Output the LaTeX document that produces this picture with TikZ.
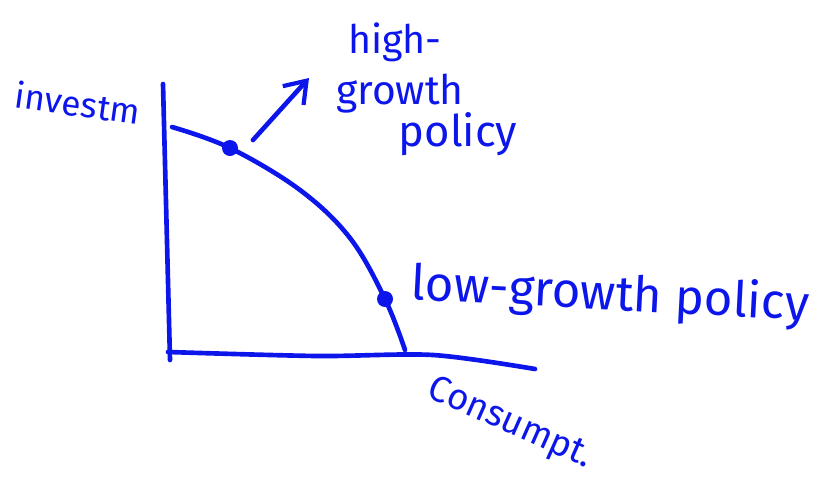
\documentclass[tikz,border=0pt]{standalone}
\usepackage{fontspec}
\setmainfont{Fira Sans}
\usetikzlibrary{arrows.meta,positioning}
\definecolor{pen}{RGB}{12,22,235}
\tikzset{>={Straight Barb[length=5mm,width=7mm,line width=3pt]},
  ink/.style={draw=pen, line width=3.3pt, line cap=round, line join=round},
  dot/.style={circle, fill=pen, inner sep=0pt, minimum size=4mm},
  hand/.style={text=pen, inner sep=0pt, font=\fontsize{#1}{#1}\selectfont},
  hand/.default=28}

\begin{document}
\begin{tikzpicture}[x=0.025cm, y=-0.025cm]
  \useasboundingbox (0,0) rectangle (822,481);
  % axes
  \coordinate (ytop) at (163,84);
  \coordinate (ybot) at (170,360);
  \coordinate (origin) at (168,352);
  \coordinate (xend) at (535,369);
  \draw[ink] (ytop) -- (ybot);
  \draw[ink] plot[smooth, tension=0.5] coordinates {(origin) (317,356) (433,355) (xend)};
  % frontier
  \node[dot] (hi) at (230,148) {};
  \node[dot] (lo) at (385,299) {};
  \coordinate (ycut) at (172,127);
  \coordinate (xcut) at (405,350);
  \draw[ink] plot[smooth, tension=0.6] coordinates
    {(ycut) (hi.center) (300,190) (350,238) (lo.center) (xcut)};
  % shift of the high-growth point
  \coordinate (stem) at (253,140);
  \coordinate (tip) at (309,78);
  \draw[ink, ->] (stem) -- (tip);
  % labels
  \node[hand=25, rotate=-8] (inv) at (78,103) {investm};
  \node[hand] (high) at (395,42) {high-};
  \node[hand=29] (grow) at (400,94) {growth};
  \node[hand=31] (pol) at (458,134) {policy};
  \node[hand=35, rotate=-3] (low) at (610,296) {low-growth policy};
  \node[hand=26, rotate=-24] (cons) at (510,424) {Consumpt.};
\end{tikzpicture}
\end{document}
